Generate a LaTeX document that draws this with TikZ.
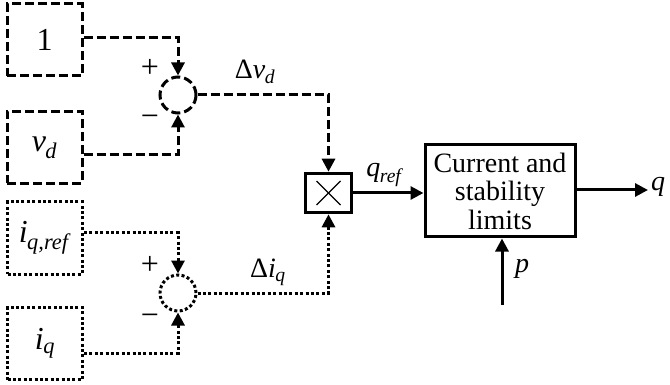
\documentclass[tikz,border=0pt]{standalone}
\usepackage{fontspec}
\setmainfont{Liberation Serif}
\usetikzlibrary{arrows.meta}
\newcommand{\itsub}[2]{\textit{#1}\textsubscript{\kern-0.5pt\textit{#2}}}
\begin{document}
\begin{tikzpicture}[x=1pt,y=-1pt,
  lw/.style={line width=3pt},
  dsh/.style={lw,dash pattern=on 9pt off 4pt},
  dot/.style={lw,dash pattern=on 3pt off 2.4pt},
  arr/.style={-{Triangle[length=13pt,width=13pt]}},
  inbox/.style={draw,minimum width=75pt,minimum height=72pt,inner sep=0pt,font=\fontsize{32}{34}\selectfont},
  sumc/.style={circle,draw,minimum size=36pt,inner sep=0pt},
  lbl/.style={font=\fontsize{28}{30}\selectfont,inner sep=0pt},
  sgn/.style={font=\fontsize{32}{34}\selectfont,inner sep=0pt}]
\useasboundingbox (0,0) rectangle (670,385);
% upper branch
\node[inbox,dsh] (one) at (44.5,40) {1};
\node[inbox,dsh] (vd) at (44.5,147.5) {\itsub{v}{d}};
\node[sumc,dsh] (s1) at (178,95) {};
\coordinate (c1) at (s1.north |- 0,38);
\coordinate (c2) at (s1.south |- 0,155);
\draw[dsh,arr] (one.east |- c1) -- (c1) -- (s1.north);
\draw[dsh,arr] (vd.east |- c2) -- (c2) -- (s1.south);
\node[sgn] (p1) at (150,68) {+};
\node[sgn] (m1) at (150,121) {\textminus};
% multiplier
\node[draw,line width=3.6pt,minimum width=46pt,minimum height=39pt,inner sep=0pt] (mul) at (328.5,193) {};
\draw[line width=1.3pt] ([shift={(-12pt,-12pt)}]mul.center) -- ([shift={(12pt,12pt)}]mul.center);
\draw[line width=1.3pt] ([shift={(-12pt,12pt)}]mul.center) -- ([shift={(12pt,-12pt)}]mul.center);
\coordinate (c3) at (mul.north |- s1.east);
\draw[dsh,arr] (s1.east) -- (c3) -- (mul.north);
\node[lbl] (dvd) at (255,72) {Δ\itsub{v}{d}};
% lower branch
\node[inbox,dot] (iqr) at (45,238) {\itsub{i}{q,ref}};
\node[inbox,dot] (iq) at (45,343.5) {\itsub{i}{q}};
\node[sumc,dot] (s2) at (178,293) {};
\coordinate (c4) at (s2.north |- 0,233);
\coordinate (c5) at (s2.south |- 0,353);
\draw[dot,arr] (iqr.east |- c4) -- (c4) -- (s2.north);
\draw[dot,arr] (iq.east |- c5) -- (c5) -- (s2.south);
\node[sgn] (p2) at (150,265) {+};
\node[sgn] (m2) at (150,320) {\textminus};
\coordinate (c6) at (mul.south |- s2.east);
\draw[dot,arr] (s2.east) -- (c6) -- (mul.south);
\node[lbl] (diq) at (268,272) {Δ\itsub{i}{q}};
% limits block
\node[draw,lw,minimum width=150pt,minimum height=92pt,inner sep=0pt,align=center,
  font=\fontsize{28}{28.5}\selectfont] (lim) at (500,191) {Current and\\stability\\limits};
\draw[lw,arr] (mul.east) -- (mul.east -| lim.west);
\node[lbl] (qref) at (385,175) {\itsub{q}{ref}};
\coordinate (qo) at (648,190);
\draw[lw,arr] (lim.east |- qo) -- (qo);
\node[lbl,anchor=west] (q) at (651,187) {\textit{q}};
\coordinate (pb) at (502,305);
\draw[lw,arr] (pb) -- (pb |- lim.south);
\node[lbl] (p) at (522,269) {\textit{p}};
\end{tikzpicture}
\end{document}
